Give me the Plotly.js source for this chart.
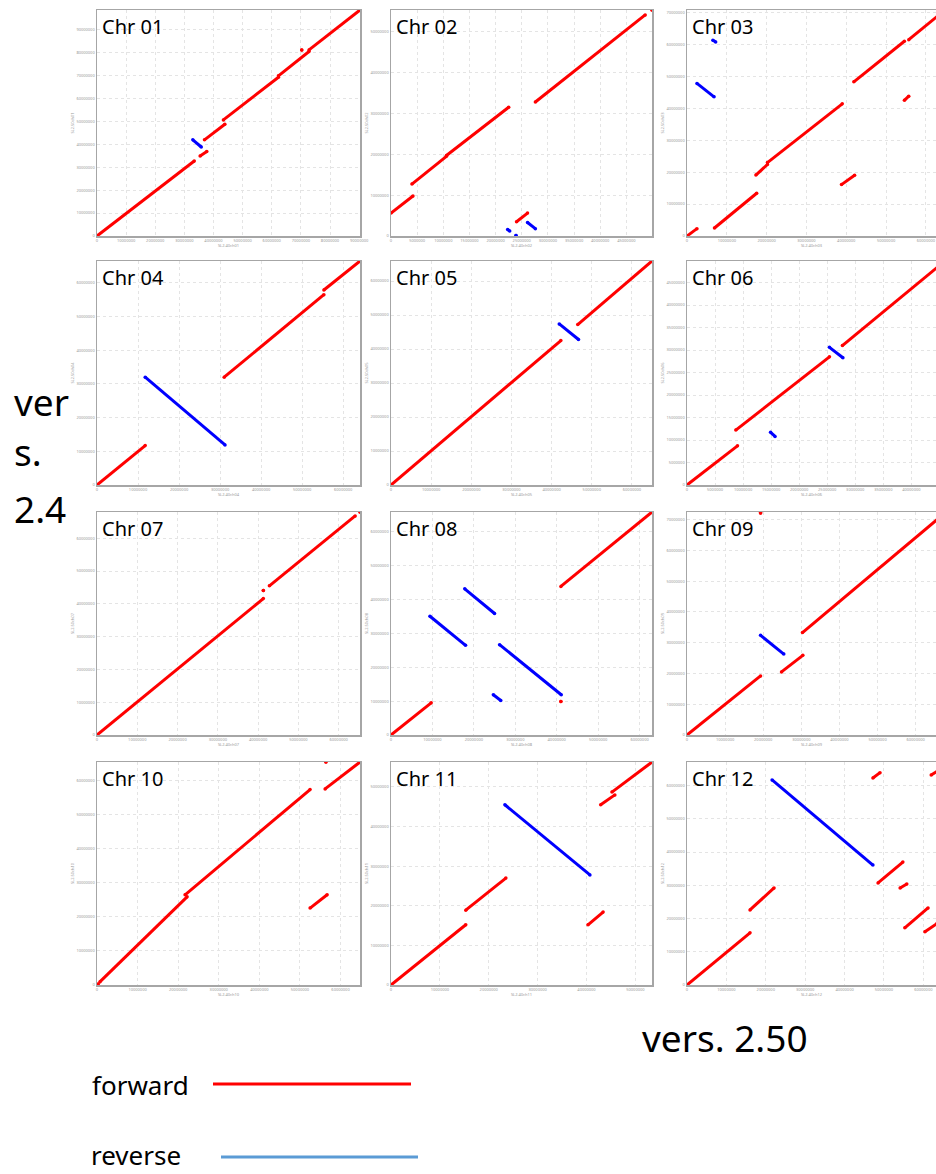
<!DOCTYPE html>
<html>
<head>
<meta charset="utf-8">
<script src="https://cdn.plot.ly/plotly-3.0.1.min.js"></script>
<style>html,body{margin:0;padding:0;background:#fff;}#chart{width:936px;height:1174px;}</style>
</head>
<body>
<div id="chart"></div>
<script>
// ---- data (Mb) ----
const chrLabels = ["Chr 01","Chr 02","Chr 03","Chr 04","Chr 05","Chr 06","Chr 07","Chr 08","Chr 09","Chr 10","Chr 11","Chr 12"];
const chrIds = ["ch01","ch02","ch03","ch04","ch05","ch06","ch07","ch08","ch09","ch10","ch11","ch12"];
const lenSL240 = [90.3, 49.9, 64.8, 64.1, 65.0, 46.0, 65.3, 63.0, 67.7, 64.8, 53.4, 65.5];
const lenSL250 = [98.5, 55.3, 70.8, 66.5, 65.9, 49.8, 68.0, 65.9, 72.5, 65.5, 56.3, 67.1];
const xTickStep = [10, 5, 10, 10, 10, 5, 10, 10, 10, 10, 10, 10];
const yTickStep = [10, 10, 10, 10, 10, 5, 10, 10, 10, 10, 10, 10];

// segments: [x0 (SL2.40), y0 (SL2.50), x1, y1]
const chr01Fwd = [[0,0,33.4,32.7],[35.4,34.9,37.7,36.8],[36.9,41.9,43.9,48.7],[43.4,50.6,62.3,69.2],[62.3,69.8,72.8,80.4],[70.3,81.1,70.3,81.1],[72.8,81.1,90.3,98.5]];
const chr01Rev = [[32.9,41.9,35.8,38.8]];
const chr02Fwd = [[0,5.6,4.2,9.8],[4.0,12.7,10.6,19.5],[10.6,19.7,22.5,31.5],[24.0,3.5,26.1,5.6],[27.6,32.8,48.6,54.1],[49.9,55.3,49.9,55.3]];
const chr02Rev = [[22.3,1.6,22.7,1.2],[23.9,0.1,23.9,0.1],[26.1,3.3,27.6,1.8]];
const chr03Fwd = [[0,0,2.5,2.3],[6.9,2.5,17.5,13.4],[17.3,19.1,20.2,22.4],[20.2,23.0,39.0,41.4],[38.8,16.1,42.1,19.0],[41.9,48.3,54.6,61.0],[54.6,42.5,55.7,43.8],[55.7,61.5,64.8,70.8]];
const chr03Rev = [[2.5,47.8,6.8,43.6],[6.5,61.3,7.2,60.8]];
const chr04Fwd = [[0,0,11.75,11.7],[31.0,32.0,55.3,56.5],[55.3,57.9,64.1,66.5]];
const chr04Rev = [[11.75,32.0,31.2,11.9]];
const chr05Fwd = [[0,0,42.3,42.5],[46.5,47.2,65.0,65.9]];
const chr05Rev = [[41.9,47.4,46.7,42.8]];
const chr06Fwd = [[0,0,9.0,8.7],[8.7,12.2,25.4,28.5],[27.7,31.0,46.0,49.8]];
const chr06Rev = [[25.4,30.6,27.8,28.3],[14.9,11.7,15.7,10.8]];
const chr07Fwd = [[0,0,41.3,41.6],[41.3,44.1,41.3,44.1],[42.8,45.5,64.1,66.8],[65.3,68.0,65.3,68.0]];
const chr07Rev = [];
const chr08Fwd = [[0,0,9.7,9.5],[41.0,9.9,41.0,9.9],[41.0,43.9,63.0,65.9]];
const chr08Rev = [[9.4,35.1,18.0,26.5],[17.8,43.2,25.0,35.9],[24.7,11.9,26.5,10.2],[26.2,26.7,41.1,11.9]];
const chr09Fwd = [[0,0,19.3,19.2],[24.8,20.5,30.4,25.9],[30.3,33.3,67.7,72.2],[19.3,72.2,19.3,72.2]];
const chr09Rev = [[19.3,32.4,25.4,26.3]];
const chr10Fwd = [[0,0,0.3,0.3],[0.7,0.9,22.2,25.9],[21.7,26.5,52.5,57.4],[56.2,57.6,64.8,65.5],[52.5,22.6,56.7,26.5],[56.4,65.5,56.4,65.5]];
const chr10Rev = [];
const chr11Fwd = [[0,0,15.3,15.2],[15.3,18.9,23.5,27.0],[40.3,15.2,43.4,18.4],[42.9,45.5,45.8,48.0],[45.2,48.7,53.4,56.3]];
const chr11Rev = [[23.3,45.5,40.7,27.8]];
const chr12Fwd = [[0,0,16.0,15.7],[16.0,22.6,22.1,29.2],[47.2,62.3,49.0,63.9],[48.5,30.7,54.8,37.0],[54.1,29.2,55.8,30.4],[55.3,17.2,61.2,23.2],[60.4,16.0,63.5,18.5],[62.0,63.2,64.5,65.0]];
const chr12Rev = [[21.6,61.7,47.2,36.1]];

const fwdByChr = [chr01Fwd,chr02Fwd,chr03Fwd,chr04Fwd,chr05Fwd,chr06Fwd,chr07Fwd,chr08Fwd,chr09Fwd,chr10Fwd,chr11Fwd,chr12Fwd];
const revByChr = [chr01Rev,chr02Rev,chr03Rev,chr04Rev,chr05Rev,chr06Rev,chr07Rev,chr08Rev,chr09Rev,chr10Rev,chr11Rev,chr12Rev];

const legendLabels = ["forward", "reverse"];

// ---- layout geometry (pixels) ----
const W = 936, H = 1174;
const rowTop = [10, 261, 512, 762];
const rowBottom = [236, 485, 735, 985];
const colLeft = [97, 391, 687];
const colRight = [360, 652, 945]; // third column runs past the page edge
const MB = 1e6;

function segXY(segs) {
  const x = [], y = [];
  segs.forEach(s => { x.push(s[0]*MB, s[2]*MB, null); y.push(s[1]*MB, s[3]*MB, null); });
  return {x, y};
}

const traces = [];
const layout = {
  width: W, height: H,
  margin: {l:0, r:0, t:0, b:0},
  paper_bgcolor: '#ffffff', plot_bgcolor: '#ffffff',
  showlegend: false,
  font: {family: 'Noto Sans, sans-serif'},
  annotations: [], shapes: []
};

for (let i = 0; i < 12; i++) {
  const r = Math.floor(i / 3), c = i % 3;
  const ax = i === 0 ? '' : String(i + 1);
  const left = colLeft[c], right = Math.min(colRight[c], W);
  const fullW = colRight[c] - colLeft[c];
  const visFrac = (right - left) / fullW;
  const xDom = [left / W, right / W];
  const yDom = [1 - rowBottom[r] / H, 1 - rowTop[r] / H];

  const f = segXY(fwdByChr[i]);
  traces.push({x: f.x, y: f.y, xaxis: 'x' + ax, yaxis: 'y' + ax, type: 'scatter', mode: 'lines+markers',
    line: {color: '#ff0000', width: 3}, marker: {color: '#ff0000', size: 3.5}, hoverinfo: 'skip', cliponaxis: true});
  if (revByChr[i].length) {
    const rv = segXY(revByChr[i]);
    traces.push({x: rv.x, y: rv.y, xaxis: 'x' + ax, yaxis: 'y' + ax, type: 'scatter', mode: 'lines+markers',
      line: {color: '#0000ff', width: 3}, marker: {color: '#0000ff', size: 3.5}, hoverinfo: 'skip', cliponaxis: true});
  }

  const common = {
    showgrid: true, gridcolor: '#e4e4e4', griddash: 'dot', gridwidth: 1,
    zeroline: false, showline: true, linecolor: '#a6a6a6', linewidth: 1.5,
    ticks: '', tickformat: 'd', tickfont: {size: 4, color: '#9a9a9a'},
    automargin: false, fixedrange: true
  };
  layout['xaxis' + ax] = Object.assign({}, common, {
    domain: xDom, anchor: 'y' + ax, mirror: true,
    range: [0, lenSL240[i] * MB * visFrac], dtick: xTickStep[i] * MB, tick0: 0,
    title: {text: 'SL2.40' + chrIds[i], font: {size: 4, color: '#9a9a9a'}, standoff: 2}
  });
  layout['yaxis' + ax] = Object.assign({}, common, {
    domain: yDom, anchor: 'x' + ax, mirror: c < 2 ? true : false,
    range: [0, lenSL250[i] * MB], dtick: yTickStep[i] * MB, tick0: 0,
    title: {text: 'SL2.50' + chrIds[i], font: {size: 4, color: '#9a9a9a'}, standoff: 2}
  });

  layout.annotations.push({
    xref: 'paper', yref: 'paper', x: (left + 3) / W, y: 1 - (rowTop[r] + 1) / H,
    xanchor: 'left', yanchor: 'top', showarrow: false, text: chrLabels[i],
    font: {size: 20, color: '#000000', family: 'Noto Sans, sans-serif'}
  });
}

// side labels
const bigFont = {size: 37, color: '#000000', family: 'Noto Sans, sans-serif'};
[["ver", 402], ["s.", 451], ["2.4", 508]].forEach(t => {
  layout.annotations.push({xref: 'paper', yref: 'paper', x: 12 / W, y: 1 - t[1] / H,
    xanchor: 'left', yanchor: 'middle', showarrow: false, text: t[0], font: bigFont});
});
layout.annotations.push({xref: 'paper', yref: 'paper', x: 640 / W, y: 1 - 1037 / H,
  xanchor: 'left', yanchor: 'middle', showarrow: false, text: 'vers. 2.50', font: bigFont});

// legend
const legFont = {size: 26, color: '#000000', family: 'Noto Sans, sans-serif'};
layout.annotations.push({xref: 'paper', yref: 'paper', x: 90 / W, y: 1 - 1085 / H,
  xanchor: 'left', yanchor: 'middle', showarrow: false, text: legendLabels[0], font: legFont});
layout.annotations.push({xref: 'paper', yref: 'paper', x: 90 / W, y: 0,
  xanchor: 'left', yanchor: 'bottom', showarrow: false, text: legendLabels[1], font: legFont, borderpad: 0});
layout.shapes.push({type: 'line', xref: 'paper', yref: 'paper', x0: 213 / W, x1: 411 / W,
  y0: 1 - 1084 / H, y1: 1 - 1084 / H, line: {color: '#ff0000', width: 3}});
layout.shapes.push({type: 'line', xref: 'paper', yref: 'paper', x0: 221 / W, x1: 418 / W,
  y0: 1 - 1157 / H, y1: 1 - 1157 / H, line: {color: '#5b9bd5', width: 3}});

Plotly.newPlot('chart', traces, layout, {staticPlot: true, displayModeBar: false});
</script>
</body>
</html>
